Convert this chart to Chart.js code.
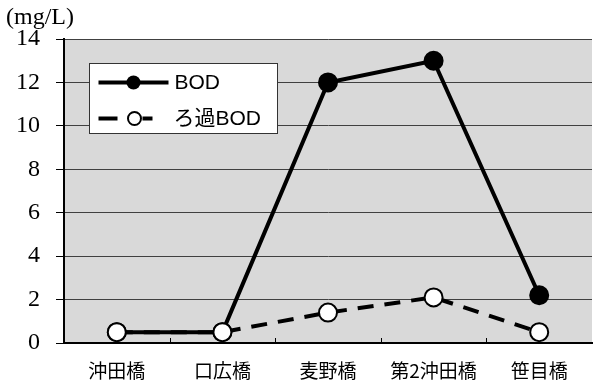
<!DOCTYPE html>
<html>
<head>
<meta charset="utf-8">
<script src="https://cdn.jsdelivr.net/npm/chart.js@4.4.0/dist/chart.umd.min.js"></script>
<style>
  html, body { margin: 0; padding: 0; background: #fff; }
</style>
</head>
<body>
<canvas id="bod_chart" width="603" height="385"></canvas>
<script>
const stations = ['沖田橋', '口広橋', '麦野橋', '第2沖田橋', '笹目橋'];
const bodValues = [0.5, 0.5, 12, 13, 2.2];
const filteredBodValues = [0.5, 0.5, 1.4, 2.1, 0.5];
const yTicks = [0, 2, 4, 6, 8, 10, 12, 14];
const unitLabel = '(mg/L)';
const seriesNames = ['BOD', 'ろ過BOD'];

Chart.defaults.font.family = '"Liberation Serif", serif';
Chart.defaults.color = '#000';

// gray plot area
const plotBackground = {
  id: 'plotBackground',
  beforeDraw(chart) {
    const { ctx, chartArea: a } = chart;
    ctx.save();
    ctx.fillStyle = '#d9d9d9';
    ctx.fillRect(a.left, a.top, a.right - a.left, a.bottom - a.top);
    ctx.restore();
  }
};

// unit label, inward x ticks, legend box inside the plot
const extras = {
  id: 'extras',
  afterDraw(chart) {
    const { ctx, chartArea: a } = chart;
    const x = chart.scales.x;
    ctx.save();

    ctx.fillStyle = '#000';
    ctx.font = '24px "Liberation Serif"';
    ctx.textBaseline = 'middle';
    ctx.textAlign = 'left';
    ctx.fillText(unitLabel, 6, 18);

    ctx.strokeStyle = '#000';
    ctx.lineWidth = 1;
    for (let i = 1; i < stations.length; i++) {
      const px = Math.round((x.getPixelForValue(i - 1) + x.getPixelForValue(i)) / 2) + 0.5;
      ctx.beginPath();
      ctx.moveTo(px, a.bottom);
      ctx.lineTo(px, a.bottom - 5);
      ctx.stroke();
    }

    // legend
    const bx = a.left + 25.5, by = a.top + 24.5;
    ctx.fillStyle = '#fff';
    ctx.fillRect(bx, by, 188, 70);
    ctx.strokeStyle = '#333';
    ctx.lineWidth = 1;
    ctx.strokeRect(bx, by, 188, 70);

    const r1 = by + 19, r2 = by + 55;
    ctx.strokeStyle = '#000';
    ctx.lineWidth = 4;
    ctx.beginPath();
    ctx.moveTo(bx + 9, r1); ctx.lineTo(bx + 79, r1);
    ctx.stroke();
    ctx.fillStyle = '#000';
    ctx.beginPath();
    ctx.arc(bx + 44, r1, 7, 0, Math.PI * 2);
    ctx.fill();

    ctx.beginPath();
    ctx.moveTo(bx + 9, r2); ctx.lineTo(bx + 28, r2);
    ctx.moveTo(bx + 53, r2); ctx.lineTo(bx + 63, r2);
    ctx.stroke();
    ctx.fillStyle = '#fff';
    ctx.lineWidth = 2;
    ctx.beginPath();
    ctx.arc(bx + 45, r2, 6.5, 0, Math.PI * 2);
    ctx.fill();
    ctx.stroke();

    ctx.fillStyle = '#000';
    ctx.font = '21px "Liberation Sans", "Noto Sans CJK JP"';
    ctx.fillText(seriesNames[0], bx + 85, r1 + 1);
    ctx.fillText(seriesNames[1], bx + 84, r2 + 1);

    ctx.restore();
  }
};

const ctx = document.getElementById('bod_chart');

new Chart(ctx, {
  type: 'line',
  data: {
    labels: stations,
    datasets: [
      {
        label: seriesNames[0],
        data: bodValues,
        borderColor: '#000',
        borderWidth: 4,
        pointRadius: 9,
        pointBorderWidth: 2,
        pointBackgroundColor: '#000',
        pointBorderColor: '#000',
        tension: 0,
        order: 1
      },
      {
        label: seriesNames[1],
        data: filteredBodValues,
        borderColor: '#000',
        borderWidth: 4,
        borderDash: [16, 11],
        pointRadius: 9,
        pointBorderWidth: 2,
        pointBackgroundColor: '#fff',
        pointBorderColor: '#000',
        tension: 0,
        order: 0
      }
    ]
  },
  options: {
    responsive: false,
    animation: false,
    layout: { padding: { top: 39, left: 0, right: 0, bottom: 0 } },
    plugins: {
      legend: { display: false },
      tooltip: { enabled: false }
    },
    scales: {
      x: {
        offset: true,
        grid: { display: false },
        border: { display: true, color: '#000', width: 2 },
        ticks: {
          color: '#000',
          font: { family: '"Noto Sans CJK JP", sans-serif', size: 19 },
          padding: 8,
          maxRotation: 0,
          autoSkip: false
        },
        afterFit(scale) { scale.height = 42; }
      },
      y: {
        min: 0,
        max: 14,
        afterBuildTicks(scale) { scale.ticks = yTicks.map(v => ({ value: v })); },
        grid: { color: '#404040', lineWidth: 1, tickColor: '#000', tickLength: 8 },
        border: { display: true, color: '#000', width: 2 },
        ticks: {
          color: '#000',
          font: { family: '"Liberation Serif", serif', size: 24 },
          padding: 16
        },
        afterFit(scale) { scale.width = 64; }
      }
    }
  },
  plugins: [plotBackground, extras]
});
</script>
</body>
</html>
